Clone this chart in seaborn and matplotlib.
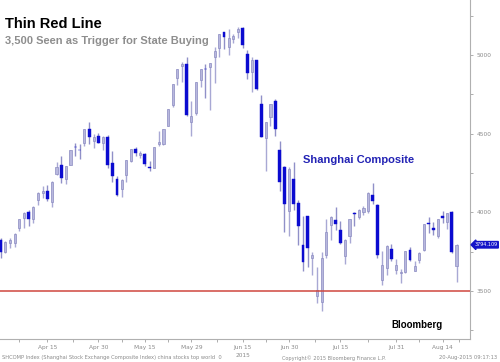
import matplotlib
matplotlib.use("Agg")
import matplotlib.pyplot as plt
import seaborn as sns
import pandas as pd
import numpy as np
from matplotlib.ticker import FixedLocator, MultipleLocator

dates = ["Mar 31", "Apr 1", "Apr 2", "Apr 3", "Apr 7", "Apr 8", "Apr 9", "Apr 10", "Apr 13", "Apr 14",
         "Apr 15", "Apr 16", "Apr 17", "Apr 20", "Apr 21", "Apr 22", "Apr 23", "Apr 24", "Apr 27", "Apr 28",
         "Apr 29", "Apr 30", "May 4", "May 5", "May 6", "May 7", "May 8", "May 11", "May 12", "May 13",
         "May 14", "May 15", "May 18", "May 19", "May 20", "May 21", "May 22", "May 25", "May 26", "May 27",
         "May 28", "May 29", "Jun 1", "Jun 2", "Jun 3", "Jun 4", "Jun 5", "Jun 8", "Jun 9", "Jun 10",
         "Jun 11", "Jun 12", "Jun 15", "Jun 16", "Jun 17", "Jun 18", "Jun 19", "Jun 23", "Jun 24", "Jun 25",
         "Jun 26", "Jun 29", "Jun 30", "Jul 1", "Jul 2", "Jul 3", "Jul 6", "Jul 7", "Jul 8", "Jul 9",
         "Jul 10", "Jul 13", "Jul 14", "Jul 15", "Jul 16", "Jul 17", "Jul 20", "Jul 21", "Jul 22", "Jul 23",
         "Jul 24", "Jul 27", "Jul 28", "Jul 29", "Jul 30", "Jul 31", "Aug 3", "Aug 4", "Aug 5", "Aug 6",
         "Aug 7", "Aug 10", "Aug 11", "Aug 12", "Aug 13", "Aug 14", "Aug 17", "Aug 18", "Aug 19"]

open_ = [3822, 3751, 3807, 3803, 3899, 3962, 4000, 3955, 4076, 4124,
         4136, 4069, 4246, 4301, 4212, 4304, 4416, 4395, 4441, 4527,
         4452, 4483, 4441, 4479, 4312, 4214, 4147, 4238, 4329, 4405,
         4367, 4373, 4290, 4285, 4434, 4433, 4551, 4680, 4854, 4932,
         4943, 4576, 4633, 4844, 4912, 4926, 4985, 5046, 5145, 5049,
         5102, 5144, 5174, 5004, 4890, 4967, 4690, 4471, 4604, 4711,
         4399, 4289, 4006, 4214, 4058, 3793, 3975, 3707, 3468, 3432,
         3731, 3918, 3951, 3887, 3725, 3847, 3994, 3969, 4001, 4009,
         4113, 4049, 3573, 3646, 3767, 3635, 3614, 3621, 3762, 3630,
         3696, 3761, 3929, 3902, 3848, 3977, 3936, 4000, 3660]
high = [3835, 3817, 3835, 3866, 3961, 4000, 4016, 4038, 4128, 4168,
        4175, 4197, 4317, 4356, 4297, 4399, 4444, 4433, 4529, 4572,
        4499, 4504, 4488, 4489, 4391, 4233, 4214, 4334, 4402, 4418,
        4391, 4376, 4324, 4418, 4515, 4529, 4658, 4814, 4911, 4959,
        4986, 4708, 4829, 4911, 4942, 4948, 5052, 5132, 5147, 5164,
        5134, 5178, 5176, 5029, 4985, 4967, 4744, 4577, 4691, 4720,
        4456, 4297, 4287, 4317, 4080, 3975, 3975, 3748, 3653, 3749,
        3960, 3975, 4031, 3947, 3830, 3958, 4000, 4022, 4040, 4128,
        4185, 4054, 3752, 3790, 3799, 3702, 3643, 3756, 3783, 3688,
        3747, 3929, 3970, 3937, 3955, 4006, 3994, 4006, 3800]
low = [3710, 3743, 3772, 3781, 3883, 3901, 3913, 3930, 4047, 4091,
       4073, 4035, 4240, 4187, 4182, 4303, 4358, 4340, 4423, 4432,
       4407, 4441, 4398, 4282, 4196, 4106, 4098, 4191, 4319, 4358,
       4347, 4297, 4260, 4283, 4421, 4430, 4551, 4668, 4812, 4830,
       4614, 4485, 4616, 4797, 4726, 4648, 4822, 4989, 5039, 5002,
       5075, 5106, 5048, 4846, 4767, 4780, 4478, 4264, 4552, 4483,
       4139, 3875, 3847, 4015, 3795, 3629, 3654, 3601, 3422, 3373,
       3709, 3823, 3891, 3799, 3672, 3806, 3913, 3955, 3981, 3996,
       4051, 3708, 3537, 3599, 3694, 3607, 3549, 3612, 3690, 3629,
       3676, 3756, 3870, 3859, 3836, 3930, 3893, 3743, 3558]
close = [3748, 3810, 3826, 3864, 3961, 3995, 3957, 4034, 4122, 4136,
         4084, 4195, 4287, 4217, 4294, 4398, 4414, 4394, 4527, 4477,
         4476, 4442, 4481, 4299, 4229, 4112, 4206, 4334, 4401, 4376,
         4378, 4309, 4284, 4418, 4446, 4529, 4658, 4814, 4911, 4942,
         4620, 4612, 4829, 4911, 4910, 4947, 5023, 5132, 5114, 5106,
         5122, 5166, 5063, 4887, 4968, 4785, 4478, 4576, 4690, 4527,
         4193, 4053, 4277, 4054, 3913, 3687, 3776, 3727, 3507, 3709,
         3878, 3970, 3925, 3806, 3823, 3957, 3992, 4018, 4026, 4124,
         4071, 3726, 3663, 3789, 3706, 3664, 3623, 3757, 3695, 3662,
         3744, 3928, 3928, 3886, 3955, 3965, 3994, 3748, 3794.109]

tick_dates = ["Apr 15", "Apr 30", "May 15", "May 29", "Jun 15", "Jun 30", "Jul 15", "Jul 31", "Aug 14"]
y_ticks = [3500, 4000, 4500, 5000]
threshold = 3500
last_value = "3794.109"

df = pd.DataFrame({"date": dates, "open": open_, "high": high, "low": low, "close": close})
df["idx"] = np.arange(len(df))
df["up"] = df["close"] >= df["open"]
df["body_lo"] = df[["open", "close"]].min(axis=1)
df["body_h"] = (df["close"] - df["open"]).abs().clip(lower=4)

sns.set_theme(style="white")
plt.rcParams["font.family"] = ["Liberation Sans", "DejaVu Sans"]

fig = plt.figure(figsize=(5.0, 3.62), dpi=100)
ax = fig.add_axes([0.0, 23 / 362, 470 / 500, 339 / 362])

up = df[df["up"]]
dn = df[~df["up"]]
wick_up = "#a8a8d4"
wick_dn = "#9090c8"
ax.vlines(up["idx"], up["low"], up["high"], color=wick_up, lw=1.0, zorder=2)
ax.vlines(dn["idx"], dn["low"], dn["high"], color=wick_dn, lw=1.0, zorder=2)
ax.bar(up["idx"], up["body_h"], bottom=up["body_lo"], width=0.45, color="#b8b8de",
       edgecolor="#8c8cc2", linewidth=0.5, zorder=3)
ax.bar(dn["idx"], dn["body_h"], bottom=dn["body_lo"], width=0.62, color="#0b0bd0",
       edgecolor="#0b0bd0", linewidth=0.3, zorder=3)

ax.axhline(threshold, color="#d0473f", lw=1.1, zorder=4)

ax.set_xlim(-0.15, 100.9)
ax.set_ylim(3195, 5350)

for s in ["left", "top"]:
    ax.spines[s].set_visible(False)
for s in ["right", "bottom"]:
    ax.spines[s].set_color("#b0b0b0")
    ax.spines[s].set_linewidth(0.8)

pos = [dates.index(d) for d in tick_dates]
ax.set_xticks(pos)
ax.set_xticklabels(tick_dates, fontsize=4.2, color="#8a8a8a", family="DejaVu Sans")
ax.xaxis.set_minor_locator(FixedLocator([(a + b) / 2 for a, b in zip([-2] + pos, pos + [102])]))
ax.tick_params(axis="x", which="both", bottom=True, direction="out", length=2.5, width=0.6,
               color="#a0a0a0", pad=1.5)

ax.yaxis.tick_right()
ax.set_yticks(y_ticks)
ax.set_yticklabels([str(v) for v in y_ticks], fontsize=4.2, color="#8a8a8a", family="DejaVu Sans")
ax.yaxis.set_minor_locator(MultipleLocator(250))
ax.tick_params(axis="y", which="both", right=True, left=False, direction="out", length=2.5,
               width=0.6, color="#a0a0a0", pad=2)

ax.text(dates.index("Jun 15"), -0.042, "2015", transform=ax.get_xaxis_transform(),
        ha="center", va="top", fontsize=4.2, color="#8a8a8a", family="DejaVu Sans")

# value tag
ax.annotate(last_value, xy=(1.0, close[-1]), xycoords=("axes fraction", "data"),
            xytext=(3.2, 0), textcoords="offset points", ha="left", va="center",
            fontsize=3.5, color="white", family="DejaVu Sans",
            bbox=dict(boxstyle="larrow,pad=0.15", fc="#1515c8", ec="#1515c8"))

fig.text(5 / 500, 1 - 28 / 362, "Thin Red Line", fontsize=10.5, fontweight="bold",
         color="black", ha="left", va="baseline")
fig.text(5 / 500, 1 - 44 / 362, "3,500 Seen as Trigger for State Buying", fontsize=8,
         fontweight="bold", color="#8e8e8e", ha="left", va="baseline")
fig.text(303 / 500, 1 - 160 / 362, "Shanghai Composite", fontsize=8, fontweight="bold",
         color="#2222b4", ha="left", va="center")
fig.text(391 / 500, 1 - 325 / 362, "Bloomberg", fontsize=7, fontweight="bold",
         color="black", ha="left", va="center")

fig.text(2 / 500, 1 - 358 / 362,
         "SHCOMP Index (Shanghai Stock Exchange Composite Index) china stocks top world  0",
         fontsize=3.7, color="#8a8a8a", ha="left", va="center", family="DejaVu Sans")
fig.text(282 / 500, 1 - 358 / 362, "Copyright\u00a9 2015 Bloomberg Finance L.P.",
         fontsize=3.6, color="#8a8a8a", ha="left", va="center", family="DejaVu Sans")
fig.text(497 / 500, 1 - 358 / 362, "20-Aug-2015 09:17:13",
         fontsize=3.7, color="#8a8a8a", ha="right", va="center", family="DejaVu Sans")

fig.savefig("out.png", dpi=100)
